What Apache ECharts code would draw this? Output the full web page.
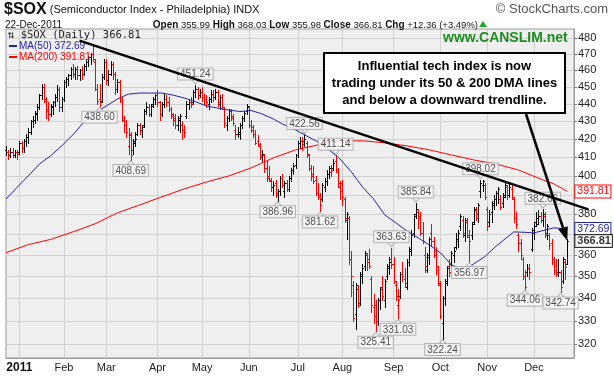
<!DOCTYPE html>
<html>
<head>
<meta charset="utf-8">
<script src="https://cdn.jsdelivr.net/npm/echarts@6/dist/echarts.min.js"></script>
<style>
  html, body { margin: 0; padding: 0; background: #fff; }
  #chart { width: 614px; height: 376px; }
</style>
</head>
<body>
<div id="chart"></div>
<script>
// daily bars [open, high, low, close], one list per month
const dec10 = [[414,416,411,413],[413,414,409,411],[411,415,410,413],[413,415,410,411],[411,414,410,413],[413,414,409,412]]
const jan = [[413,419,412,418],[418,419,413,415],[415,420,413,419],[419,423,416,421],[421,426,418,424],[424,431,423,430],[430,433,427,431],[431,436,429,435],[434,440,431,438],[438,446,437,445],[445,452,443,450],[450,452,441,443],[442,444,432,436],[437,441,431,434],[434,440,433,439],[438,442,434,441],[441,446,439,444],[444,451,442,449],[449,450,436,438],[438,444,436,443]]
const feb = [[443,454,442,453],[453,456,450,455],[455,458,451,457],[457,462,455,461],[461,464,456,458],[458,462,455,461],[461,463,455,457],[457,461,454,460],[460,463,455,458],[458,464,457,463],[463,467,460,465],[465,469,463,468],[468,471,464,470],[470,475,466,467],[465,467,448,449],[449,452,440,442],[443,452,438.6,441],[442,458,441,456],[456,467,455,465]]
const mar = [[465,467,452,454],[454,460,451,458],[458,466,457,464],[464,465,455,458],[458,459,446,449],[449,455,447,453],[453,454,441,443],[442,444,430,432],[431,433,424,430],[428,431,421,424],[416,426,412,423],[422,424,408.69,411],[414,420,412,418],[419,424,416,420],[423,429,422,428],[428,429,423,425],[425,428,421,427],[428,437,427,436],[436,441,434,438],[438,440,433,434],[434,440,433,439],[440,444,438,443],[443,446,440,445]]
const apr = [[445,448,439,441],[441,442,431,434],[434,441,433,440],[440,446,438,443],[443,445,439,441],[441,444,436,437],[437,438,432,434],[433,435,428,431],[432,434,426,428],[428,433,425,432],[431,434,424,433],[428,430,420,425],[425,428,421,424],[433,442,432,440],[440,443,437,441],[441,444,438,440],[441,448,440,447],[447,451.24,444,449],[449,450,443,445],[445,449,444,447]]
const may = [[447,450,442,444],[444,446,440,443],[443,445,438,441],[440,444,437,443],[443,448,441,446],[446,448,442,444],[444,449,443,447],[447,448,439,441],[440,445,437,444],[444,446,437,438],[437,438,427,429],[428,433,425,432],[432,437,430,436],[436,437,431,433],[432,434,428,429],[425,428,420,423],[423,427,421,424],[423,429,420,428],[428,433,426,432],[432,436,430,435],[436,440,434,439]]
const jun = [[438,439,427,428],[428,431,424,427],[425,428,421,423],[423,425,417,418],[419,422,416,417],[416,418,409,411],[410,414,408,412],[411,412,402,404],[404,408,397,399],[400,405,397,398],[397,399,392,394],[394,397,390,395],[396,398,389,391],[390,393,386.96,392],[392,400,390,399],[399,401,394,395],[392,397,389,396],[396,398,392,393],[393,400,392,399],[399,404,397,403],[403,407,401,405],[406,412,404,411]]
const jul = [[411,419,410,418],[418,421,415,419],[419,421,414,417],[419,422.56,416,420],[418,419,410,412],[411,412,403,404],[404,406,398,400],[401,405,396,397],[398,400,390,391],[391,396,388,390],[389,391,381.62,385],[388,396,387,395],[394,399,392,397],[397,403,395,401],[401,405,399,404],[402,406,400,403],[404,409,403,407],[408,411.14,402,403],[402,404,394,396],[394,397,388,392]]
const aug = [[396,398,385,389],[388,389,376,378],[377,381,368,380],[378,379,356,358],[358,362,341,350],[346,348,330,331],[333,347,326.5,346],[344,346,336,337],[338,352,337,350],[351,356,347,354],[355,362,353,361],[360,361,353,357],[358,363,354,355],[349,350,334,337],[336,342,329,332],[337,339,325.41,330],[330,340,328,339],[339,345,335,344],[345,350,339,341],[339,349,336,348],[350,356,349,355],[354,359,351,357],[358,363.63,354,356]]
const sep = [[356,359,347,348],[346,348,339,341],[337,344,331.03,339],[341,352,340,351],[351,357,348,350],[349,354,345,347],[345,358,344,357],[357,364,355,362],[363,372,360,370],[371,380,369,379],[380,385.84,378,383],[381,383,373,378],[379,381,370,371],[371,376,366,367],[360,364,352,355],[353,361,352,359],[360,369,356,368],[371,375,365,367],[367,369,359,360],[362,364,351,355],[353,355,346,347]]
const oct = [[346,348,331,332],[329,341,322.24,340],[340,349,337,347],[348,355,346,354],[355,358,350,352],[356,362,355,361],[360,364,357,362],[364,371,363,368],[367,372,364,371],[374,380,372,379],[377,379,369,371],[370,378,367,377],[376,378,369,370],[369,372,356.97,367],[370,376,368,375],[376,384,375,383],[382,384,377,378],[380,386,376,385],[392,398.02,389,396],[395,398,392,397],[395,396,388,389]]
const nov = [[383,384,372,374],[376,382,374,380],[381,387,376,386],[385,390,383,388],[388,392,385,391],[391,394,386,393],[388,390,383,384],[386,391,384,389],[390,396,389,395],[394,395,388,390],[390,396,389,394],[393,396,388,389],[388,389,376,378],[378,381,373,375],[370,371,362,366],[366,368,358,360],[358,359,349,350],[350,353,344.06,345],[352,356,350,354],[354,356,349,352],[363,373,362,372]]
const dec = [[371,376,368,374],[376,381,374,375],[378,382,375,379],[379,381,376,377],[377,382.66,374,380],[379,381,369,370],[371,375,368,374],[370,371,363,365],[366,368,356,358],[357,359,351,353],[355,358,350,351],[352,358,350,352],[352,353,342.74,345],[348,359,347,358],[357,358,349,354.45],[355.99,368.03,355.98,366.81]]

// moving averages
const ma50 = [['2010-12-23',387.9],['2010-12-31',393.9],['2011-01-07',399.9],['2011-01-14',406.3],['2011-01-24',410.7],['2011-01-31',416.2],['2011-02-07',422.3],['2011-02-14',429.6],['2011-02-22',434.8],['2011-03-01',438.8],['2011-03-08',442.9],['2011-03-15',445.8],['2011-03-22',446.4],['2011-03-29',446.4],['2011-04-05',446.4],['2011-04-12',445.2],['2011-04-19',443.5],['2011-04-27',441.4],['2011-05-04',438.8],['2011-05-11',437.6],['2011-05-18',436.5],['2011-05-25',435.6],['2011-06-02',436.2],['2011-06-09',434.2],['2011-06-16',431.3],['2011-06-23',427.9],['2011-06-30',425.1],['2011-07-08',421.7],['2011-07-15',418.4],['2011-07-22',414.0],['2011-07-29',409.0],['2011-08-05',402.1],['2011-08-12',394.2],['2011-08-19',387.9],['2011-08-26',379.8],['2011-09-02',375.8],['2011-09-12',371.8],['2011-09-19',368.4],['2011-09-26',365.0],['2011-10-03',361.2],['2011-10-10',355.4],['2011-10-14',353.6],['2011-10-20',354.5],['2011-10-26',357.3],['2011-10-31',359.3],['2011-11-07',364.3],['2011-11-14',368.7],['2011-11-17',371.3],['2011-11-25',371.1],['2011-12-01',370.8],['2011-12-08',372.2],['2011-12-14',373.3],['2011-12-22',372.69]]
const ma200 = [['2010-12-23',361.2],['2011-01-07',365.1],['2011-01-24',367.6],['2011-02-07',371.3],['2011-02-22',375.3],['2011-03-08',380.8],['2011-03-22',384.8],['2011-04-05',389.0],['2011-04-19',393.1],['2011-05-04',396.7],['2011-05-18',399.9],['2011-06-02',404.2],['2011-06-16',409.6],['2011-06-30',414.0],['2011-07-15',416.7],['2011-07-22',418.4],['2011-07-29',419.0],['2011-08-12',419.0],['2011-08-26',417.9],['2011-09-12',416.2],['2011-09-26',414.0],['2011-10-10',411.2],['2011-10-24',408.5],['2011-11-07',406.3],['2011-11-21',403.1],['2011-12-06',398.3],['2011-12-14',395.7],['2011-12-22',391.81]]

const highMarkDates = ['2011-04-27','2011-07-07','2011-07-27','2011-08-31','2011-09-16','2011-10-27','2011-12-07']
const lowMarkDates = ['2011-02-24','2011-03-16','2011-06-20','2011-07-18','2011-08-22','2011-09-06','2011-10-04','2011-10-20','2011-11-25','2011-12-19']
const yTicks = [320,330,340,350,360,370,380,390,400,410,420,430,440,450,460,470,480]
const trendline = [['2011-02-10', 478.6], ['2011-12-22', 386.1]]
const noteLines = ['Influential tech index is now', 'trading under its 50 & 200 DMA lines', 'and below a downward trendline.']
const holidays = ['2010-12-24','2011-01-17','2011-02-21','2011-04-22','2011-05-30','2011-07-04','2011-09-05','2011-11-24']
const monthNames = ['Jan','Feb','Mar','Apr','May','Jun','Jul','Aug','Sep','Oct','Nov','Dec']

const bars = [].concat(dec10, jan, feb, mar, apr, may, jun, jul, aug, sep, oct, nov, dec)

function tradingDays(start, count) {
  let out = []
  let d = new Date(start + 'T00:00:00Z')
  while (out.length < count) {
    let s = d.toISOString().slice(0, 10)
    let wd = d.getUTCDay()
    if (wd !== 0 && wd !== 6 && holidays.indexOf(s) < 0) out.push(s)
    d.setUTCDate(d.getUTCDate() + 1)
  }
  return out
}

const dates = tradingDays('2010-12-23', bars.length)
const categories = dates.concat(['pad1', 'pad2', 'pad3'])
const monthStarts = {}
dates.forEach((d, i) => {
  if (i > 0 && d.slice(5, 7) !== dates[i - 1].slice(5, 7)) monthStarts[i] = true
})
const byDate = {}
dates.forEach((d, i) => { byDate[d] = bars[i] })

const last = bars[bars.length - 1]
const prevClose = bars[bars.length - 2][3]
const lastDate = dates[dates.length - 1]
const BLUE = '#24249c'
const RED = '#ff0000'
const FONT = 'Liberation Sans, Arial, sans-serif'

function renderBar(params, api) {
  let i = api.value(0)
  let hi = api.coord([i, api.value(2)])
  let lo = api.coord([i, api.value(3)])
  let op = api.coord([i, api.value(1)])
  let cl = api.coord([i, api.value(4)])
  let x = Math.round(hi[0]) + 0.5
  let prev = i > 0 ? bars[i - 1][3] : api.value(4)
  let color = api.value(4) < prev ? RED : '#000'
  let st = { stroke: color, lineWidth: 1 }
  let oy = Math.round(op[1]) + 0.5
  let cy = Math.round(cl[1]) + 0.5
  return {
    type: 'group',
    children: [
      { type: 'line', shape: { x1: x, y1: Math.round(hi[1]), x2: x, y2: Math.round(lo[1]) + 1 }, style: st },
      { type: 'line', shape: { x1: x - 1.5, y1: oy, x2: x, y2: oy }, style: st },
      { type: 'line', shape: { x1: x, y1: cy, x2: x + 1.5, y2: cy }, style: st },
    ],
  }
}

const markLabel = {
  show: true,
  distance: 0,
  color: '#222',
  fontSize: 10,
  fontFamily: FONT,
  backgroundColor: '#f7f7f7',
  borderColor: '#a8a8a8',
  borderWidth: 1,
  padding: [1, 2, 0, 2],
  lineHeight: 10,
  formatter: (p) => p.value[1].toFixed(2),
}

function endBox(color, bold) {
  return {
    show: true,
    distance: 8,
    formatter: (p) => p.value[1].toFixed(2),
    color: color,
    fontSize: bold ? 11 : 10.5,
    fontWeight: bold ? 'bold' : 'normal',
    fontFamily: FONT,
    backgroundColor: '#fff',
    borderColor: color,
    borderWidth: 1,
    padding: [1, 1, 0, 2],
  }
}

let chart = echarts.init(document.getElementById('chart'))

let option = {
  animation: false,
  grid: {
    left: 6,
    right: 40,
    top: 29,
    bottom: 18,
    show: true,
    backgroundColor: '#efefef',
    borderColor: '#9a9a9a',
    borderWidth: 1,
  },
  xAxis: {
    type: 'category',
    data: categories,
    boundaryGap: false,
    axisLine: { show: true, lineStyle: { color: '#9a9a9a' } },
    axisTick: { show: false },
    axisLabel: {
      interval: (i) => !!monthStarts[i],
      margin: 4,
      color: '#222',
      fontSize: 11,
      fontFamily: FONT,
      formatter: (v) => {
        let m = parseInt(v.slice(5, 7), 10)
        return m === 1 ? '{y|' + v.slice(0, 4) + '}' : monthNames[m - 1]
      },
      rich: { y: { fontWeight: 'bold', fontSize: 12, color: '#111', fontFamily: FONT } },
    },
    splitLine: {
      show: true,
      interval: (i) => !!monthStarts[i],
      lineStyle: { color: '#d2d2d2', width: 1 },
    },
  },
  yAxis: {
    type: 'log',
    logBase: 10,
    position: 'right',
    min: 314.1,
    max: 486,
    axisLine: { show: true, lineStyle: { color: '#9a9a9a' } },
    axisTick: { show: true, length: 3, customValues: yTicks, lineStyle: { color: '#777' } },
    axisLabel: { customValues: yTicks, color: '#222', fontSize: 11, margin: 4, fontFamily: FONT },
    splitLine: { show: true, lineStyle: { color: '#d2d2d2', width: 1 } },
  },
  series: [
    {
      name: '$SOX',
      type: 'custom',
      renderItem: renderBar,
      data: bars.map((b, i) => [i, b[0], b[1], b[2], b[3]]),
      encode: { x: 0, y: [2, 3] },
      z: 3,
    },
    {
      name: 'MA(200)',
      type: 'line',
      data: ma200,
      showSymbol: false,
      lineStyle: { color: RED, width: 1 },
      z: 4,
      endLabel: endBox(RED, false),
    },
    {
      name: 'MA(50)',
      type: 'line',
      data: ma50,
      showSymbol: false,
      lineStyle: { color: BLUE, width: 1 },
      z: 4,
      endLabel: endBox(BLUE, false),
    },
    {
      type: 'scatter',
      data: highMarkDates.map((d) => [d, byDate[d][1]]),
      symbol: 'path://M0,0L5,6L10,0',
      symbolSize: [7, 4],
      symbolOffset: [0, -3],
      itemStyle: { color: '#f7f7f7', borderColor: '#a8a8a8', borderWidth: 1 },
      label: Object.assign({ position: 'top' }, markLabel),
      z: 5,
    },
    {
      type: 'scatter',
      data: lowMarkDates.map((d) => [d, byDate[d][2]]),
      symbol: 'path://M0,6L5,0L10,6',
      symbolSize: [7, 4],
      symbolOffset: [0, 3],
      itemStyle: { color: '#f7f7f7', borderColor: '#a8a8a8', borderWidth: 1 },
      label: Object.assign({ position: 'bottom' }, markLabel),
      z: 5,
    },
    {
      type: 'scatter',
      data: [[lastDate, last[3]]],
      symbolSize: 0,
      label: Object.assign(endBox('#000', true), { position: 'right' }),
      z: 6,
    },
  ],
}

chart.setOption(option)

// annotations placed from data coordinates
let p1 = chart.convertToPixel({ xAxisIndex: 0, yAxisIndex: 0 }, trendline[0])
let p2 = chart.convertToPixel({ xAxisIndex: 0, yAxisIndex: 0 }, trendline[1])
let k = (p2[1] - p1[1]) / (p2[0] - p1[0])
let tEnd = [p2[0] + 21, p2[1] + 21 * k]

let tip = chart.convertToPixel({ xAxisIndex: 0, yAxisIndex: 0 }, [lastDate, last[3]])
let aStart = [526, 114]
let dx = tip[0] - aStart[0]
let dy = tip[1] - aStart[1]
let len = Math.sqrt(dx * dx + dy * dy)
let ux = dx / len
let uy = dy / len
let base = [tip[0] - 14 * ux, tip[1] - 14 * uy]

let chg = last[3] - prevClose
let pct = (chg / prevClose) * 100

chart.setOption({
  graphic: [
    {
      type: 'text',
      left: 4,
      top: 2,
      style: {
        text: '{t|$SOX} (Semiconductor Index - Philadelphia) INDX',
        font: '11px ' + FONT,
        fill: '#111',
        rich: { t: { fontWeight: 'bold', fontSize: 16, fontFamily: FONT, fill: '#111' } },
      },
    },
    {
      type: 'text',
      left: 5,
      top: 20,
      style: { text: dates[dates.length - 1].split('-').reverse().join('-').replace('-12-', '-Dec-'), font: '10px ' + FONT, fill: '#111' },
    },
    {
      type: 'text',
      right: 136,
      top: 20,
      style: {
        text:
          '{b|Open} ' + last[0].toFixed(2) + ' {b|High} ' + last[1].toFixed(2) + ' {b|Low} ' + last[2].toFixed(2) +
          ' {b|Close} ' + last[3].toFixed(2) + ' {b|Chg} +' + chg.toFixed(2) + ' (+' + pct.toFixed(2) + '%)',
        font: '9.5px ' + FONT,
        fill: '#111',
        rich: { b: { fontWeight: 'bold', fontSize: 10, fontFamily: FONT, fill: '#111' } },
      },
    },
    {
      type: 'polygon',
      shape: { points: [[479, 27], [483, 21], [487, 27]] },
      style: { fill: '#22aa22' },
    },
    {
      type: 'text',
      right: 6,
      top: 3,
      style: { text: '\u00a9 StockCharts.com', font: '13px ' + FONT, fill: '#555' },
    },
    {
      type: 'text',
      left: 8,
      top: 30,
      style: { text: '\u21c5 $SOX (Daily) ' + last[3].toFixed(2), font: '10.5px DejaVu Sans Mono', fill: '#222' },
      z: 20,
    },
    { type: 'rect', shape: { x: 9, y: 45, width: 8, height: 2 }, style: { fill: BLUE }, z: 20 },
    {
      type: 'text',
      left: 19,
      top: 41,
      style: { text: 'MA(50) ' + ma50[ma50.length - 1][1].toFixed(2), font: '10px ' + FONT, fill: BLUE },
      z: 20,
    },
    { type: 'rect', shape: { x: 9, y: 56, width: 8, height: 2 }, style: { fill: RED }, z: 20 },
    {
      type: 'text',
      left: 19,
      top: 52,
      style: { text: 'MA(200) ' + ma200[ma200.length - 1][1].toFixed(2), font: '10px ' + FONT, fill: RED },
      z: 20,
    },
    {
      type: 'text',
      left: 443,
      top: 31,
      style: { text: 'www.CANSLIM.net', font: 'bold 14px ' + FONT, fill: '#1e8c1e' },
      z: 20,
    },
    {
      type: 'line',
      shape: { x1: p1[0], y1: p1[1], x2: tEnd[0], y2: tEnd[1] },
      style: { stroke: '#000', lineWidth: 2.5 },
      z: 30,
    },
    {
      type: 'line',
      shape: { x1: aStart[0], y1: aStart[1], x2: base[0], y2: base[1] },
      style: { stroke: '#000', lineWidth: 2.5 },
      z: 30,
    },
    {
      type: 'polygon',
      shape: { points: [tip, [base[0] - 5 * uy, base[1] + 5 * ux], [base[0] + 5 * uy, base[1] - 5 * ux]] },
      style: { fill: '#000' },
      z: 30,
    },
    {
      type: 'rect',
      shape: { x: 324, y: 53, width: 241, height: 60 },
      style: { fill: '#fff', stroke: '#000', lineWidth: 2 },
      z: 40,
    },
    {
      type: 'text',
      x: 444.5,
      y: 58,
      style: {
        text: noteLines.join('\n'),
        font: 'bold 13px ' + FONT,
        fill: '#000',
        align: 'center',
        lineHeight: 17,
      },
      z: 41,
    },
  ],
})
</script>
</body>
</html>
